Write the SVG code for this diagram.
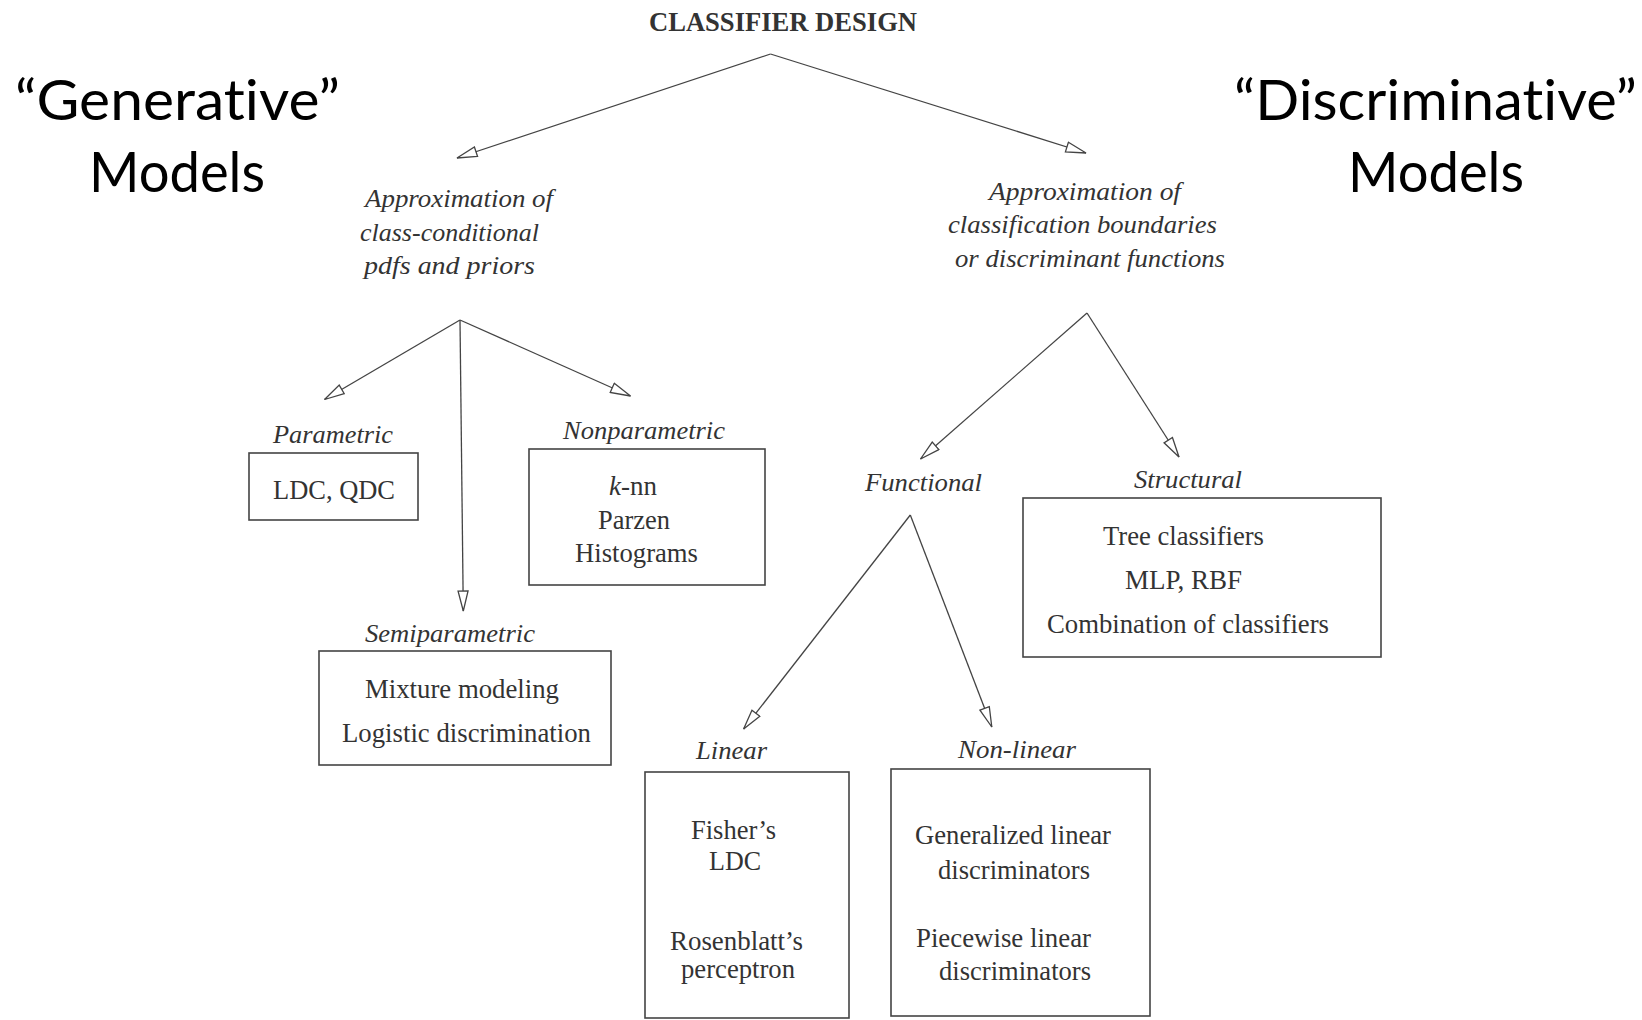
<svg xmlns="http://www.w3.org/2000/svg" width="1642" height="1020" viewBox="0 0 1642 1020">
  <style>
    .title { font-family: "Liberation Serif", "Times New Roman", serif; font-weight: bold; font-size: 27px; fill: #333; }
    .side { font-family: "Lato", "Open Sans", sans-serif; font-size: 57px; fill: #000; font-variant-ligatures: none; }
    .desc { font-family: "Liberation Serif", "Times New Roman", serif; font-style: italic; font-size: 26px; fill: #333; }
    .cat { font-family: "Liberation Serif", "Times New Roman", serif; font-style: italic; font-size: 26px; fill: #333; }
    .item { font-family: "Liberation Serif", "Times New Roman", serif; font-size: 27.5px; fill: #333; }
    .box { fill: none; stroke: #444; stroke-width: 1.6; }
    .edge { fill: none; stroke: #444; stroke-width: 1.3; marker-end: url(#open-arrow); }
  </style>
  <defs>
    <!-- hollow triangular arrowhead -->
    <marker id="open-arrow" viewBox="0 0 22 12" refX="21" refY="6" markerWidth="22" markerHeight="12" markerUnits="userSpaceOnUse" orient="auto">
      <path d="M1,1 L21,6 L1,11 Z" fill="#fff" stroke="#444" stroke-width="1.3"/>
    </marker>
  </defs>

  <rect width="1642" height="1020" fill="#fff"/>

  <!-- connectors -->
  <g id="connectors">
    <line class="edge" x1="770.5" y1="54" x2="457" y2="158"/>
    <line class="edge" x1="770.5" y1="54" x2="1086" y2="153"/>
    <line class="edge" x1="460" y1="320" x2="324.5" y2="399.5"/>
    <line class="edge" x1="460" y1="320" x2="463.3" y2="611"/>
    <line class="edge" x1="460" y1="320" x2="630.5" y2="396"/>
    <line class="edge" x1="1087" y1="313" x2="920.5" y2="459"/>
    <line class="edge" x1="1087" y1="313" x2="1179" y2="457"/>
    <line class="edge" x1="910.3" y1="515" x2="743.6" y2="729"/>
    <line class="edge" x1="910.3" y1="515" x2="991.8" y2="727"/>
  </g>

  <g id="classifier-design">
    <text class="title" x="649" y="31" textLength="268" lengthAdjust="spacingAndGlyphs">CLASSIFIER DESIGN</text>
  </g>

  <g id="generative-models">
    <text class="side" x="15" y="120" textLength="325" lengthAdjust="spacingAndGlyphs">“Generative”</text>
    <text class="side" x="89" y="192" textLength="176" lengthAdjust="spacingAndGlyphs">Models</text>
  </g>

  <g id="discriminative-models">
    <text class="side" x="1234" y="120" textLength="403" lengthAdjust="spacingAndGlyphs">“Discriminative”</text>
    <text class="side" x="1348" y="192" textLength="176" lengthAdjust="spacingAndGlyphs">Models</text>
  </g>

  <g id="approx-pdfs">
    <text class="desc" x="365" y="207" textLength="188" lengthAdjust="spacingAndGlyphs">Approximation of</text>
    <text class="desc" x="360" y="241" textLength="179" lengthAdjust="spacingAndGlyphs">class-conditional</text>
    <text class="desc" x="364" y="274" textLength="171" lengthAdjust="spacingAndGlyphs">pdfs and priors</text>
  </g>

  <g id="approx-boundaries">
    <text class="desc" x="989" y="200" textLength="192" lengthAdjust="spacingAndGlyphs">Approximation of</text>
    <text class="desc" x="948" y="233" textLength="269" lengthAdjust="spacingAndGlyphs">classification boundaries</text>
    <text class="desc" x="955" y="267" textLength="270" lengthAdjust="spacingAndGlyphs">or discriminant functions</text>
  </g>

  <g id="parametric">
    <text class="cat" x="273" y="443" textLength="120" lengthAdjust="spacingAndGlyphs">Parametric</text>
    <rect class="box" x="249" y="453" width="169" height="67"/>
    <text class="item" x="273" y="499" textLength="122" lengthAdjust="spacingAndGlyphs">LDC, QDC</text>
  </g>

  <g id="nonparametric">
    <text class="cat" x="563" y="439" textLength="162" lengthAdjust="spacingAndGlyphs">Nonparametric</text>
    <rect class="box" x="529" y="449" width="236" height="136"/>
    <text class="item" x="609" y="495" textLength="48" lengthAdjust="spacingAndGlyphs"><tspan font-style="italic">k</tspan>-nn</text>
    <text class="item" x="598" y="529" textLength="72" lengthAdjust="spacingAndGlyphs">Parzen</text>
    <text class="item" x="575" y="562" textLength="123" lengthAdjust="spacingAndGlyphs">Histograms</text>
  </g>

  <g id="semiparametric">
    <text class="cat" x="365" y="642" textLength="170" lengthAdjust="spacingAndGlyphs">Semiparametric</text>
    <rect class="box" x="319" y="651" width="292" height="114"/>
    <text class="item" x="365" y="698" textLength="194" lengthAdjust="spacingAndGlyphs">Mixture modeling</text>
    <text class="item" x="342" y="742" textLength="249" lengthAdjust="spacingAndGlyphs">Logistic discrimination</text>
  </g>

  <g id="functional">
    <text class="cat" x="865" y="491" textLength="117" lengthAdjust="spacingAndGlyphs">Functional</text>
  </g>

  <g id="structural">
    <text class="cat" x="1134" y="488" textLength="108" lengthAdjust="spacingAndGlyphs">Structural</text>
    <rect class="box" x="1023" y="498" width="358" height="159"/>
    <text class="item" x="1103" y="545" textLength="161" lengthAdjust="spacingAndGlyphs">Tree classifiers</text>
    <text class="item" x="1125" y="589" textLength="117" lengthAdjust="spacingAndGlyphs">MLP, RBF</text>
    <text class="item" x="1047" y="633" textLength="282" lengthAdjust="spacingAndGlyphs">Combination of classifiers</text>
  </g>

  <g id="linear">
    <text class="cat" x="696" y="759" textLength="71" lengthAdjust="spacingAndGlyphs">Linear</text>
    <rect class="box" x="645" y="772" width="204" height="246"/>
    <text class="item" x="691" y="839" textLength="85" lengthAdjust="spacingAndGlyphs">Fisher’s</text>
    <text class="item" x="709" y="870" textLength="52" lengthAdjust="spacingAndGlyphs">LDC</text>
    <text class="item" x="670" y="950" textLength="133" lengthAdjust="spacingAndGlyphs">Rosenblatt’s</text>
    <text class="item" x="681" y="978" textLength="114" lengthAdjust="spacingAndGlyphs">perceptron</text>
  </g>

  <g id="non-linear">
    <text class="cat" x="958" y="758" textLength="118" lengthAdjust="spacingAndGlyphs">Non-linear</text>
    <rect class="box" x="891" y="769" width="259" height="247"/>
    <text class="item" x="915" y="844" textLength="196" lengthAdjust="spacingAndGlyphs">Generalized linear</text>
    <text class="item" x="938" y="879" textLength="152" lengthAdjust="spacingAndGlyphs">discriminators</text>
    <text class="item" x="916" y="947" textLength="175" lengthAdjust="spacingAndGlyphs">Piecewise linear</text>
    <text class="item" x="939" y="980" textLength="152" lengthAdjust="spacingAndGlyphs">discriminators</text>
  </g>
</svg>
